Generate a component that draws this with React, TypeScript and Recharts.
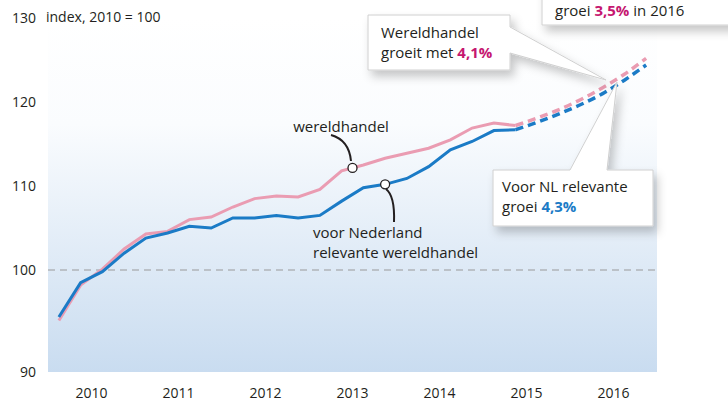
import React from 'react';
import { LineChart, Line, XAxis, YAxis, CartesianGrid, ReferenceLine, ReferenceDot } from 'recharts';

// quarterly index, 2010 = 100 (2010 K1 .. 2016 K4)
const quarters = [
  '2010K1', '2010K2', '2010K3', '2010K4', '2011K1', '2011K2', '2011K3', '2011K4',
  '2012K1', '2012K2', '2012K3', '2012K4', '2013K1', '2013K2', '2013K3', '2013K4',
  '2014K1', '2014K2', '2014K3', '2014K4', '2015K1', '2015K2', '2015K3', '2015K4',
  '2016K1', '2016K2', '2016K3', '2016K4',
];
const years = ['2010', '2011', '2012', '2013', '2014', '2015', '2016'];

const worldTrade = [
  94.0, 98.2, 100.1, 102.5, 104.3, 104.6, 106.0, 106.3, 107.5, 108.5, 108.8,
  108.7, 109.6, 111.8, 112.5, 113.3, 113.9, 114.5, 115.5, 116.9, 117.5, 117.2,
];
const nlRelevant = [
  94.4, 98.5, 99.8, 102.0, 103.8, 104.4, 105.2, 105.0, 106.2, 106.2, 106.5,
  106.2, 106.5, 108.2, 109.8, 110.2, 110.9, 112.3, 114.3, 115.3, 116.6, 116.7,
];
// forecast from 2015K2 onward
const worldTradeForecast = [117.2, 118.1, 119.1, 120.3, 121.7, 123.3, 125.2];
const nlRelevantForecast = [116.7, 117.6, 118.6, 119.7, 121.0, 122.6, 124.4];
const forecastStart = worldTrade.length - 1;

const yTicks = [90, 100, 110, 120, 130];
const yMin = 87.86;
const yMax = 130;

const PINK = '#ea9cb2';
const BLUE = '#1b7bc6';
const MAGENTA = '#c5166f';
const TEXT = '#231f20';
const FONT = '"Open Sans", "Noto Sans", sans-serif';

const data = quarters.map((label, i) => ({
  q: i,
  label,
  wt: i < worldTrade.length ? worldTrade[i] : null,
  nl: i < nlRelevant.length ? nlRelevant[i] : null,
  wtF: i >= forecastStart ? worldTradeForecast[i - forecastStart] : null,
  nlF: i >= forecastStart ? nlRelevantForecast[i - forecastStart] : null,
}));

const yearTicks = years.map((_, k) => k * 4 + 1.5);

const YTick = (props: any) => {
  const { y, payload } = props;
  // bottom label sits on the lower edge of the plot
  const shift = payload.value === 90 ? (90 - yMin) * 8.4 : 0;
  return (
    <text x={36} y={y + shift} dy="0.35em" textAnchor="end" fontSize={14} fill={TEXT} fontFamily={FONT}>
      {payload.value}
    </text>
  );
};

const App: React.FC = () => {
  return (
    <div style={{ position: 'absolute', left: 0, top: 0, width: 728, height: 406, background: '#fff', overflow: 'hidden', fontFamily: FONT }}>
      <LineChart width={728} height={406} data={data} margin={{ top: 18, right: 71, left: 0, bottom: 4 }}>
        <defs>
          <linearGradient id="plotBg" x1="0" y1="0" x2="0" y2="1">
            <stop offset="0%" stopColor="#ffffff" />
            <stop offset="30%" stopColor="#fafcfe" />
            <stop offset="100%" stopColor="#c9dcf0" />
          </linearGradient>
        </defs>
        <CartesianGrid horizontal={false} vertical={false} fill="url(#plotBg)" stroke="none" />
        <XAxis
          type="number"
          dataKey="q"
          domain={[-0.5, quarters.length - 0.5]}
          ticks={yearTicks}
          tickFormatter={(v: number) => years[Math.round((v - 1.5) / 4)]}
          axisLine={false}
          tickLine={false}
          tickMargin={10}
          height={30}
          tick={{ fontSize: 14, fill: TEXT, fontFamily: FONT }}
        />
        <YAxis
          type="number"
          domain={[yMin, yMax]}
          ticks={yTicks}
          allowDataOverflow
          axisLine={false}
          tickLine={false}
          width={48}
          tick={<YTick />}
        />
        <ReferenceLine y={100} stroke="#9a9a9a" strokeDasharray="7 5" strokeWidth={1.2} />
        <Line dataKey="wt" stroke={PINK} strokeWidth={3} dot={false} isAnimationActive={false} connectNulls={false} />
        <Line dataKey="nl" stroke={BLUE} strokeWidth={3} dot={false} isAnimationActive={false} connectNulls={false} />
        <Line dataKey="wtF" stroke={PINK} strokeWidth={3.5} strokeDasharray="8 5" dot={false} isAnimationActive={false} type="monotone" />
        <Line dataKey="nlF" stroke={BLUE} strokeWidth={3.5} strokeDasharray="8 5" dot={false} isAnimationActive={false} type="monotone" />
        <ReferenceDot x={13.5} y={(worldTrade[13] + worldTrade[14]) / 2} r={4.5} fill="#fff" stroke={TEXT} strokeWidth={1.3} />
        <ReferenceDot x={15} y={nlRelevant[15]} r={4.5} fill="#fff" stroke={TEXT} strokeWidth={1.3} />
      </LineChart>

      <svg width={728} height={406} style={{ position: 'absolute', left: 0, top: 0, pointerEvents: 'none' }}>
        <defs>
          <filter id="shadow" x="-20%" y="-20%" width="140%" height="160%">
            <feDropShadow dx="4" dy="6" stdDeviation="5" floodColor="#000" floodOpacity="0.22" />
          </filter>
        </defs>
        <text x={46} y={17} dy="0.35em" fontSize={14} fill={TEXT} fontFamily={FONT}>index, 2010 = 100</text>

        <text x={341} y={127} dy="0.35em" textAnchor="middle" fontSize={15} fill={TEXT} fontFamily={FONT}>wereldhandel</text>
        <path d="M331,135 Q349,140 351,161" fill="none" stroke={TEXT} strokeWidth={2} />
        <path d="M386,189 Q395,196 394,222" fill="none" stroke={TEXT} strokeWidth={2} />
        <text x={313} y={233} dy="0.35em" fontSize={15} fill={TEXT} fontFamily={FONT}>voor Nederland</text>
        <text x={313} y={253} dy="0.35em" fontSize={15} fill={TEXT} fontFamily={FONT}>relevante wereldhandel</text>

        <g filter="url(#shadow)">
          <path d="M542,-30 H740 V25 H542 Z" fill="#fff" stroke="#d0d0d0" strokeWidth={1} />
          <path d="M368,15 H510 V27 L606,80 L510,53 V70 H368 Z" fill="#fff" stroke="#d0d0d0" strokeWidth={1} />
          <path d="M493,170 H570 L617,82 L607,170 H653 V226 H493 Z" fill="#fff" stroke="#d0d0d0" strokeWidth={1} />
        </g>

        <text x={555} y={10.5} dy="0.35em" fontSize={15} fill={TEXT} fontFamily={FONT}>
          groei <tspan fill={MAGENTA} fontWeight={700}>3,5%</tspan> in 2016
        </text>
        <text x={381} y={33} dy="0.35em" fontSize={15} fill={TEXT} fontFamily={FONT}>Wereldhandel</text>
        <text x={381} y={53} dy="0.35em" fontSize={15} fill={TEXT} fontFamily={FONT}>
          groeit met <tspan fill={MAGENTA} fontWeight={700}>4,1%</tspan>
        </text>
        <text x={502} y={187} dy="0.35em" fontSize={15} fill={TEXT} fontFamily={FONT}>Voor NL relevante</text>
        <text x={502} y={207} dy="0.35em" fontSize={15} fill={TEXT} fontFamily={FONT}>
          groei <tspan fill={BLUE} fontWeight={700}>4,3%</tspan>
        </text>
      </svg>
    </div>
  );
};

export default App;
